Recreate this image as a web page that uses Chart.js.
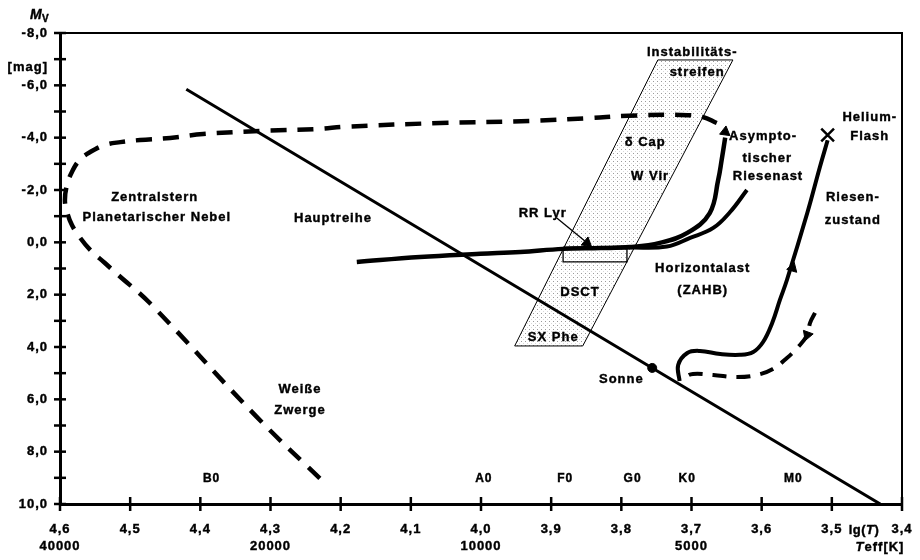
<!DOCTYPE html>
<html>
<head>
<meta charset="utf-8">
<script src="https://cdn.jsdelivr.net/npm/chart.js@4.4.1/dist/chart.umd.min.js"></script>
<style>
  html, body { margin: 0; padding: 0; background: #fff; }
  #wrap { width: 920px; height: 560px; }
</style>
</head>
<body>
<div id="wrap"><canvas id="hrd" width="920" height="560"></canvas></div>
<script>
// ---- axis ticks ----
const xTickValues = [4.6, 4.5, 4.4, 4.3, 4.2, 4.1, 4.0, 3.9, 3.8, 3.7, 3.6, 3.5, 3.4];
const teffTickAt = [4.6, 4.3, 4.0, 3.7];
const teffTickLabels = ['40000', '20000', '10000', '5000'];
const yTickValues = [-8, -7, -6, -5, -4, -3, -2, -1, 0, 1, 2, 3, 4, 5, 6, 7, 8, 9, 10];

// ---- spectral classes along lg(T) ----
const spectralClasses = ['B0', 'A0', 'F0', 'G0', 'K0', 'M0'];
const spectralLgT = [4.384, 3.996, 3.880, 3.784, 3.706, 3.555];

// ---- main sequence ----
const msLgT = [4.42, 3.756, 3.431];
const msMv  = [-5.85, 4.80, 10.0];

// ---- the Sun ----
const sunLgT = [3.756];
const sunMv  = [4.80];

// ---- post-AGB: central star of planetary nebula -> white dwarfs (dashed) ----
const pnLgT = [3.664, 3.684, 3.716, 3.790, 3.845, 3.930, 4.058, 4.191, 4.234, 4.311, 4.396, 4.443, 4.486, 4.514, 4.536,
               4.557, 4.572, 4.583, 4.590, 4.593, 4.590, 4.583, 4.572, 4.557, 4.536, 4.517, 4.472, 4.320, 4.220];
const pnMv  = [-4.56, -4.79, -4.87, -4.84, -4.75, -4.64, -4.56, -4.42, -4.33, -4.26, -4.14, -3.99, -3.91, -3.83, -3.72,
               -3.45, -3.15, -2.69, -2.19, -1.62, -1.16, -0.66, -0.20, 0.29, 0.79, 1.25, 2.32, 6.66, 9.27];

// ---- horizontal branch continuing into the asymptotic giant branch ----
const hbAgbLgT = [4.177, 4.087, 4.001, 3.944, 3.883, 3.830, 3.788, 3.745, 3.706, 3.674, 3.662, 3.657, 3.652];
const hbAgbMv  = [0.75, 0.56, 0.44, 0.37, 0.25, 0.22, 0.18, 0.02, -0.36, -1.12, -2.38, -3.15, -4.00];

// ---- second branch leaving the horizontal branch ----
const hb2LgT = [3.830, 3.788, 3.735, 3.702, 3.669, 3.645, 3.621];
const hb2Mv  = [0.22, 0.20, 0.16, -0.17, -0.55, -1.16, -2.00];

// ---- red giant branch up to the helium flash ----
const rgbLgT = [3.717, 3.719, 3.706, 3.688, 3.659, 3.631, 3.612, 3.598, 3.585, 3.574, 3.564, 3.535, 3.517, 3.506];
const rgbMv  = [5.30, 4.69, 4.23, 4.15, 4.27, 4.30, 4.19, 3.81, 3.08, 2.20, 1.44, -1.12, -2.88, -3.90];

// ---- helium flash ----
const flashLgT = [3.506];
const flashMv  = [-4.10];

// ---- descent path (dashed) ----
const descLgT = [3.524, 3.531, 3.535, 3.548, 3.564, 3.584, 3.607, 3.635, 3.669, 3.698, 3.708, 3.711];
const descMv  = [2.70, 3.08, 3.54, 4.00, 4.42, 4.84, 5.07, 5.15, 5.07, 5.03, 5.15, 5.30];

// ---- instability strip outline ----
const stripLgT = [3.748, 3.641, 3.855, 3.952, 3.748];
const stripMv  = [-6.97, -6.97, 3.96, 3.96, -6.97];

// ---- RR Lyrae box and its pointer ----
const rrBoxLgT = [3.883, 3.792, 3.792, 3.883, 3.883];
const rrBoxMv  = [0.18, 0.18, 0.75, 0.75, 0.18];
const rrPtrLgT = [3.892, 3.852];
const rrPtrMv  = [-0.93, -0.05];

// ---- arrow heads along the tracks ----
const arrowLgT = [3.652, 3.556, 3.535, 3.849];
const arrowMv  = [-4.22, 0.98, 3.54, 0.02];
const arrowRot = [8, 16, 200, 130];

// ---- text in the diagram ----
const noteText = ['Zentralstern', 'Planetarischer Nebel', 'Hauptreihe', 'Weiße', 'Zwerge', 'RR Lyr', 'DSCT', 'SX Phe',
                  'Sonne', 'Horizontalast', '(ZAHB)', 'Instabilitäts-', 'streifen', 'δ Cap', 'W Vir',
                  'Asympto-', 'tischer', 'Riesenast', 'Helium-', 'Flash', 'Riesen-', 'zustand'];
const noteLgT  = [4.465, 4.462, 4.211, 4.258, 4.258, 3.912, 3.859, 3.897,
                  3.800, 3.684, 3.684, 3.699, 3.692, 3.766, 3.759,
                  3.598, 3.592, 3.591, 3.446, 3.446, 3.470, 3.470];
const noteMv   = [-1.73, -0.97, -0.93, 5.64, 6.41, -1.12, 1.93, 3.65,
                  5.22, 0.98, 1.82, -7.27, -6.51, -3.80, -2.50,
                  -4.06, -3.22, -2.50, -4.79, -4.03, -1.70, -0.85];

const FONT = "'Liberation Sans', Arial, Helvetica, sans-serif";
const pts = (xs, ys) => xs.map((v, i) => ({ x: v, y: ys[i] }));
const fmt = v => Number(v).toFixed(1).replace('.', ',');

// light stipple for the instability strip
function stipple() {
  const tile = document.createElement('canvas');
  tile.width = 4; tile.height = 4;
  const g = tile.getContext('2d');
  g.fillStyle = '#9a9a9a';
  g.fillRect(1, 1, 1, 1);
  g.fillStyle = '#d8d8d8';
  g.fillRect(3, 3, 1, 1);
  return g.createPattern(tile, 'repeat');
}

const line = (data, extra) => Object.assign({
  data, borderColor: '#000', backgroundColor: '#000', pointRadius: 0, fill: false, tension: 0.4, order: 1
}, extra);

// heavy bold text: fill plus a thin outline
function heavyText(ctx, s, px, py) {
  ctx.fillText(s, px, py);
  ctx.strokeText(s, px, py);
}

const decor = {
  id: 'decor',
  beforeDraw(chart) { chart.ctx.letterSpacing = '1px'; },
  afterDraw(chart) {
    const { ctx, chartArea: a, scales: { x, y } } = chart;
    ctx.save();
    ctx.strokeStyle = '#000';
    ctx.fillStyle = '#000';
    // frame on top and right
    ctx.lineWidth = 2;
    ctx.beginPath();
    ctx.moveTo(a.left, a.top); ctx.lineTo(a.right, a.top); ctx.lineTo(a.right, a.bottom + 3);
    ctx.stroke();
    // tick marks crossing the axes
    ctx.lineWidth = 2.5;
    x.ticks.forEach(t => {
      const px = x.getPixelForValue(t.value);
      ctx.beginPath(); ctx.moveTo(px, a.bottom - 7); ctx.lineTo(px, a.bottom + 7); ctx.stroke();
    });
    y.ticks.forEach(t => {
      const py = y.getPixelForValue(t.value);
      ctx.beginPath(); ctx.moveTo(a.left - 6, py); ctx.lineTo(a.left + 6, py); ctx.stroke();
    });
    // annotations
    ctx.lineWidth = 0.4;
    ctx.textAlign = 'center';
    ctx.textBaseline = 'middle';
    ctx.font = 'bold 13px ' + FONT;
    noteText.forEach((s, i) => heavyText(ctx, s, x.getPixelForValue(noteLgT[i]), y.getPixelForValue(noteMv[i])));
    ctx.font = 'bold 12px ' + FONT;
    spectralClasses.forEach((s, i) => heavyText(ctx, s, x.getPixelForValue(spectralLgT[i]), y.getPixelForValue(9.05)));
    // y axis title
    ctx.textAlign = 'left';
    ctx.font = 'italic bold 14px ' + FONT;
    heavyText(ctx, 'M', 30, 15);
    ctx.font = 'bold 10px ' + FONT;
    heavyText(ctx, 'V', 42, 19);
    ctx.textAlign = 'right';
    ctx.font = 'bold 13px ' + FONT;
    heavyText(ctx, '[mag]', a.left - 12, 67);
    // x axis titles
    const mixed = (parts, cx, cy) => {
      let w = 0;
      parts.forEach(p => { ctx.font = p[1] + ' 13px ' + FONT; w += ctx.measureText(p[0]).width; });
      let cur = cx - w / 2;
      ctx.textAlign = 'left';
      parts.forEach(p => { ctx.font = p[1] + ' 13px ' + FONT; heavyText(ctx, p[0], cur, cy); cur += ctx.measureText(p[0]).width; });
    };
    ctx.letterSpacing = '0.5px';
    mixed([['lg(', 'bold'], ['T', 'italic bold'], [')', 'bold']], 864, 530);
    ctx.letterSpacing = '1px';
    mixed([['T', 'italic bold'], ['eff[K]', 'bold']], 880, 547);
    ctx.restore();
  }
};

new Chart(document.getElementById('hrd'), {
  type: 'line',
  data: {
    datasets: [
      line(pts(stripLgT, stripMv), { borderWidth: 1, tension: 0, fill: 'shape', backgroundColor: stipple(), order: 10 }),
      line(pts(rrBoxLgT, rrBoxMv), { borderWidth: 1.3, tension: 0 }),
      line(pts(rrPtrLgT, rrPtrMv), { borderWidth: 1.3, tension: 0 }),
      line(pts(msLgT, msMv), { borderWidth: 3, tension: 0 }),
      line(pts(pnLgT, pnMv), { borderWidth: 4.5, borderDash: [16, 11] }),
      line(pts(hbAgbLgT, hbAgbMv), { borderWidth: 4.5 }),
      line(pts(hb2LgT, hb2Mv), { borderWidth: 4 }),
      line(pts(rgbLgT, rgbMv), { borderWidth: 4 }),
      line(pts(descLgT, descMv), { borderWidth: 4, borderDash: [14, 10] }),
      line(pts(sunLgT, sunMv), { showLine: false, pointRadius: 4.5, pointStyle: 'circle', order: 0 }),
      line(pts(flashLgT, flashMv), { showLine: false, pointRadius: 9, pointStyle: 'crossRot', pointBorderWidth: 2.5, order: 0 }),
      line(pts(arrowLgT, arrowMv), { showLine: false, pointRadius: 6, pointStyle: 'triangle', pointRotation: arrowRot, pointBorderWidth: 1, order: 0 })
    ]
  },
  options: {
    responsive: false,
    devicePixelRatio: 1,
    animation: false,
    events: [],
    layout: { padding: { top: 33, right: 18, bottom: 0, left: 0 } },
    plugins: { legend: { display: false }, tooltip: { enabled: false } },
    scales: {
      x: {
        type: 'linear', reverse: true, min: 3.4, max: 4.6,
        afterBuildTicks: s => { s.ticks = xTickValues.map(v => ({ value: v })); },
        afterFit: s => { s.height = 56; s.paddingLeft = 0; s.paddingRight = 0; },
        grid: { display: false, drawTicks: false },
        border: { display: true, color: '#000', width: 3 },
        ticks: {
          autoSkip: false, maxRotation: 0, padding: 17, color: '#000',
          textStrokeColor: '#000', textStrokeWidth: 0.4,
          font: { family: FONT, size: 13, weight: 'bold', lineHeight: 1.3 },
          callback: v => {
            const i = teffTickAt.indexOf(Number(Number(v).toFixed(1)));
            return i >= 0 ? [fmt(v), teffTickLabels[i]] : fmt(v);
          }
        }
      },
      y: {
        type: 'linear', reverse: true, min: -8, max: 10,
        afterBuildTicks: s => { s.ticks = yTickValues.map(v => ({ value: v })); },
        afterFit: s => { s.width = 60; s.paddingTop = 0; s.paddingBottom = 0; },
        grid: { display: false, drawTicks: false },
        border: { display: true, color: '#000', width: 3 },
        ticks: {
          autoSkip: false, padding: 12, color: '#000',
          textStrokeColor: '#000', textStrokeWidth: 0.4,
          font: { family: FONT, size: 13, weight: 'bold' },
          callback: v => (Math.round(v) % 2 === 0 ? fmt(v) : '')
        }
      }
    }
  },
  plugins: [decor]
});
</script>
</body>
</html>
